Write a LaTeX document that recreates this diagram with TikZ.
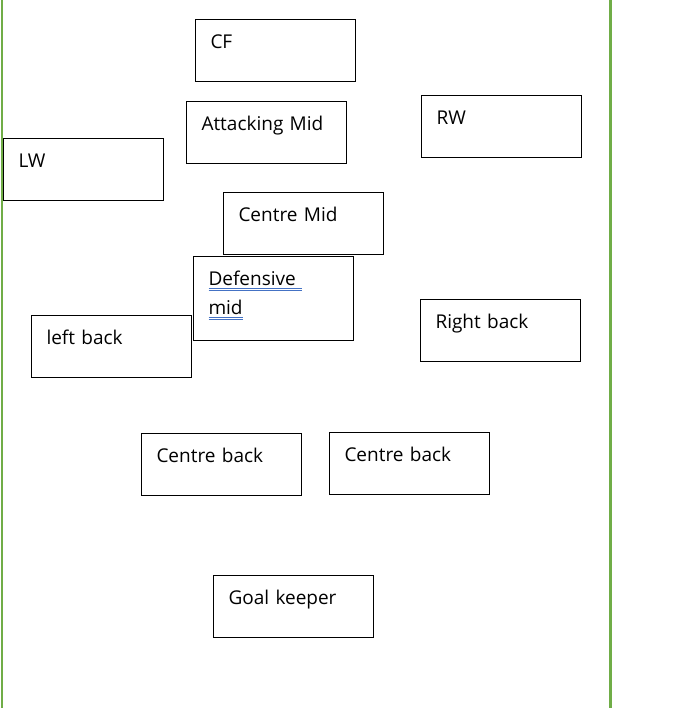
\documentclass[tikz,border=0pt]{standalone}
\usepackage{fontspec}
\setmainfont{Open Sans}
\usepackage{tikz}
\usetikzlibrary{positioning}
\definecolor{pitchgreen}{RGB}{112, 173, 71}
\definecolor{gramblue}{RGB}{68, 114, 196}
\tikzstyle{posbox} = [rectangle, draw=black, line width=1pt, fill=white, anchor=north west, text=black, align=left, text width=130pt, inner xsep=15pt, inner ysep=0pt, text height=29pt, text depth=33pt, font=\fontsize{19}{29}\selectfont]
\tikzstyle{tallbox} = [text depth=55pt]
\tikzstyle{sideline} = [draw=pitchgreen, line width=2.2pt]
% double blue underline under a word
\newcommand{\gram}[1]{\leavevmode\setbox0\hbox{#1}\rlap{\raisebox{-3.6pt}{\color{gramblue}\rule{\wd0}{0.8pt}}}\rlap{\raisebox{-5.4pt}{\color{gramblue}\rule{\wd0}{0.8pt}}}#1}

\begin{document}
\begin{tikzpicture}[x=1pt, y=-1pt]
\useasboundingbox (0,0) rectangle (688,708);

% touchlines
\coordinate (ltop) at (2.3,0);
\coordinate (lbot) at (2.3,708);
\coordinate (rtop) at (610.5,0);
\coordinate (rbot) at (610.5,708);
\path[sideline] (ltop) -- (lbot);
\path[sideline] (rtop) -- (rbot);

% attack
\node[posbox] (cf) at (195,19) {CF};
\node[posbox] (am) at (186,101) {Attacking Mid};
\node[posbox] (rw) at (421,95) {RW};
\node[posbox] (lw) at (3,138) {LW};

% midfield
\node[posbox] (cm) at (223,192) {Centre Mid};
\node[posbox, tallbox] (dm) at (193,256) {\gram{Defensive }\\\gram{mid}};

% defence
\node[posbox] (lb) at (31,315) {left back};
\node[posbox] (rb) at (420,299) {Right back};
\node[posbox] (cb1) at (141,433) {Centre back};
\node[posbox, right=27pt of cb1.north east, anchor=north west, yshift=1pt] (cb2) {Centre back};

% keeper
\node[posbox] (gk) at (213,575) {Goal keeper};

\end{tikzpicture}
\end{document}
